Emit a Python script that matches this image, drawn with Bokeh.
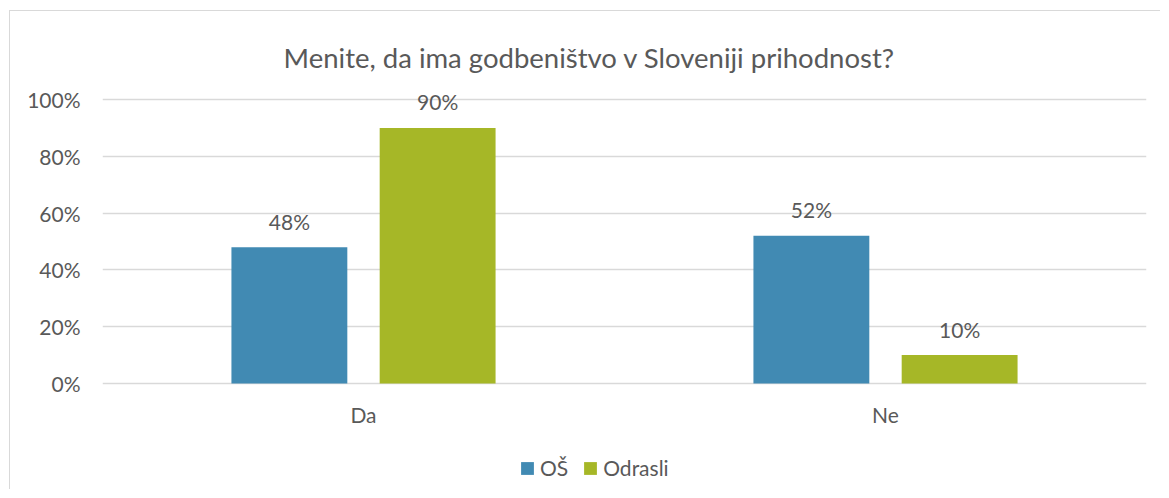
from bokeh.plotting import figure
from bokeh.models import FactorRange, Range1d, Label, Legend, LegendItem, NumeralTickFormatter, FixedTicker
from bokeh.transform import dodge
from bokeh.core.properties import value
from bokeh.embed import file_html
from bokeh.resources import INLINE

categories = ["Da", "Ne"]
os_vals = [0.48, 0.52]
odrasli_vals = [0.90, 0.10]
os_labels = ["48%", "52%"]
odrasli_labels = ["90%", "10%"]
y_ticks = [0, 0.2, 0.4, 0.6, 0.8, 1.0]
title_text = "Menite, da ima godbeništvo v Sloveniji prihodnost?"
series_names = ["OŠ", "Odrasli"]

BLUE = "#418AB3"
GREEN = "#A6B727"
TXT = "#595959"
FONT = "Lato"
FS = "21px"

p = figure(
    x_range=FactorRange(*categories),
    y_range=Range1d(-0.3732, 1.3099),
    frame_width=1044, frame_height=478,
    min_border_left=92, min_border_right=14, min_border_top=0, min_border_bottom=0,
    output_backend="svg", toolbar_location=None,
)
p.styles = {"border-left": "1px solid #d9d9d9", "border-top": "1px solid #d9d9d9",
            "margin-left": "9px", "margin-top": "10px"}
p.outline_line_color = None
p.background_fill_color = "white"
p.border_fill_color = "white"

data = dict(cat=categories, os=os_vals, od=odrasli_vals, osl=os_labels, odl=odrasli_labels)

r1 = p.vbar(x=dodge("cat", -0.142, range=p.x_range), top="os", width=0.222, source=data,
            fill_color=BLUE, line_color=None)
r2 = p.vbar(x=dodge("cat", 0.142, range=p.x_range), top="od", width=0.222, source=data,
            fill_color=GREEN, line_color=None)

p.text(x=dodge("cat", -0.142, range=p.x_range), y="os", text="osl", source=data,
       text_align="center", text_baseline="alphabetic", y_offset=-26,
       text_font=value(FONT), text_font_size=FS, text_color=TXT)
p.text(x=dodge("cat", 0.142, range=p.x_range), y="od", text="odl", source=data,
       text_align="center", text_baseline="alphabetic", y_offset=-26,
       text_font=value(FONT), text_font_size=FS, text_color=TXT)

# axes
p.yaxis.ticker = FixedTicker(ticks=y_ticks)
p.yaxis.formatter = NumeralTickFormatter(format="0%")
p.yaxis.axis_line_color = None
p.yaxis.major_tick_line_color = None
p.yaxis.minor_tick_line_color = None
p.yaxis.major_label_standoff = 16
p.yaxis.major_label_text_font = FONT
p.yaxis.major_label_text_font_size = FS
p.yaxis.major_label_text_color = TXT

p.xaxis.fixed_location = 0
p.xaxis.axis_line_color = None
p.xaxis.major_tick_line_color = None
p.xaxis.minor_tick_line_color = None
p.xaxis.major_label_standoff = 12
p.xaxis.major_label_text_font = FONT
p.xaxis.major_label_text_font_size = FS
p.xaxis.major_label_text_color = TXT

p.xgrid.grid_line_color = None
p.ygrid.grid_line_color = "#D9D9D9"
p.ygrid.grid_line_width = 1.5

# title (inside the frame so it is not clipped)
p.add_layout(Label(x=0.933, y=1.147, text=title_text, text_align="center",
                   text_baseline="alphabetic", text_font=FONT, text_font_size="27.5px",
                   text_color=TXT))

legend = Legend(items=[LegendItem(label=series_names[0], renderers=[r1]),
                       LegendItem(label=series_names[1], renderers=[r2])],
                orientation="horizontal", location=(417, 9),
                glyph_width=16, glyph_height=16, label_standoff=5, spacing=14,
                padding=0, margin=0, border_line_color=None, background_fill_alpha=0,
                label_text_font=FONT, label_text_font_size=FS, label_text_color=TXT)
p.add_layout(legend, "center")

open("out.html", "w").write(file_html(p, INLINE))
